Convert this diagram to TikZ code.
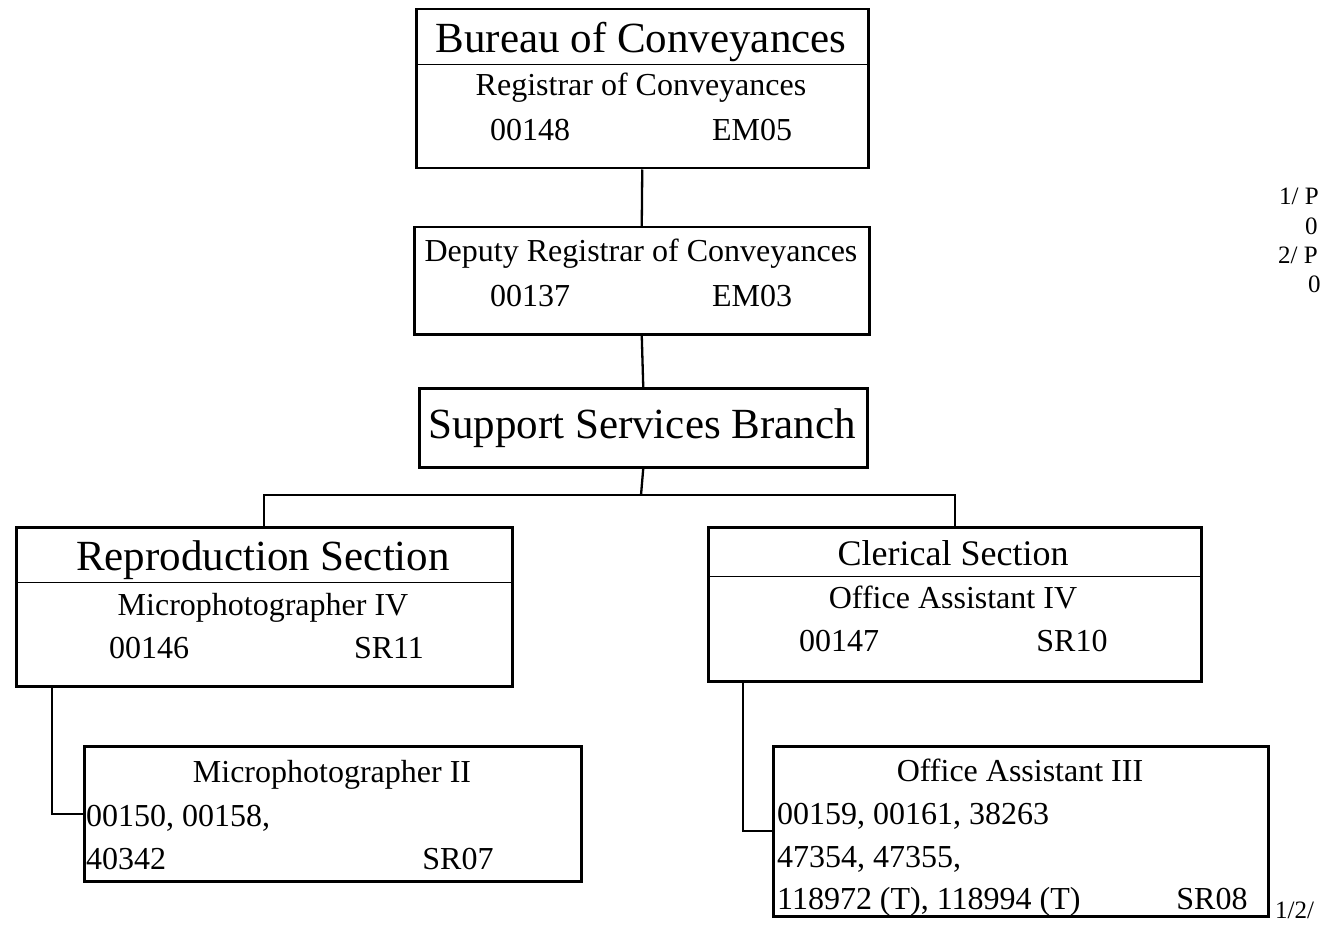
\documentclass[tikz,border=0pt]{standalone}
\usepackage{fontspec}
\setmainfont{Liberation Serif}
\tikzset{
    orgbox/.style={draw, line width=2.5pt, inner sep=0pt, anchor=north west},
    sepline/.style={line width=1pt},
    link/.style={line width=2.3pt},
    bigtxt/.style={font=\fontsize{43}{43}\selectfont, inner sep=0pt, anchor=base},
    midtxt/.style={font=\fontsize{36}{36}\selectfont, inner sep=0pt, anchor=base},
    stdtxt/.style={font=\fontsize{32}{32}\selectfont, inner sep=0pt, anchor=base},
    notetxt/.style={font=\fontsize{25}{25}\selectfont, inner sep=0pt, anchor=base west}
}
\begin{document}
\begin{tikzpicture}[x=1pt,y=1pt,yscale=-1,xscale=1]
    \useasboundingbox (0,0) rectangle (1325,925);

    %Shape: Rectangle [bureau]
    \node [orgbox, minimum width=452pt, minimum height=159pt] (bureau) at (415,8) {};
    \draw [sepline] (bureau.west |- 0,65) -- (bureau.east |- 0,65) ;
    \node [bigtxt] (bureauname) at (641,53) {Bureau of Conveyances};
    \node [stdtxt] (registrar) at (641,96) {Registrar of Conveyances};
    \node [stdtxt] (registrarno) at (530,141) {00148};
    \node [stdtxt] (registrarcls) at (752,141) {EM05};

    %Shape: Rectangle [deputy]
    \node [orgbox, minimum width=455pt, minimum height=107pt] (deputy) at (413,226) {};
    \node [stdtxt] (deputyname) at (641,262) {Deputy Registrar of Conveyances};
    \node [stdtxt] (deputyno) at (530,307) {00137};
    \node [stdtxt] (deputycls) at (752,307) {EM03};

    %Shape: Rectangle [support]
    \node [orgbox, minimum width=448pt, minimum height=79pt] (support) at (418,387) {};
    \node [bigtxt] (supportname) at (642,438) {Support Services Branch};

    %Shape: Rectangle [repro]
    \node [orgbox, minimum width=496pt, minimum height=159pt] (repro) at (15,526) {};
    \draw [sepline] (repro.west |- 0,582) -- (repro.east |- 0,582) ;
    \node [bigtxt] (reproname) at (263,570) {Reproduction Section};
    \node [stdtxt] (microiv) at (263,615) {Microphotographer IV};
    \node [stdtxt] (microivno) at (149,658) {00146};
    \node [stdtxt] (microivcls) at (389,658) {SR11};

    %Shape: Rectangle [clerical]
    \node [orgbox, minimum width=493pt, minimum height=154pt] (clerical) at (707,526) {};
    \draw [sepline] (clerical.west |- 0,576) -- (clerical.east |- 0,576) ;
    \node [midtxt] (clericalname) at (953,565) {Clerical Section};
    \node [stdtxt] (officeiv) at (953,608) {Office Assistant IV};
    \node [stdtxt] (officeivno) at (839,651) {00147};
    \node [stdtxt] (officeivcls) at (1072,651) {SR10};

    %Shape: Rectangle [microii]
    \node [orgbox, minimum width=497pt, minimum height=135pt] (microii) at (83,745) {};
    \node [stdtxt] (microiiname) at (332,782) {Microphotographer II};
    \node [stdtxt, anchor=base west] (microiia) at (86,826) {00150, 00158,};
    \node [stdtxt, anchor=base west] (microiib) at (86,869) {40342};
    \node [stdtxt] (microiicls) at (458,869) {SR07};

    %Shape: Rectangle [officeiii]
    \node [orgbox, minimum width=495pt, minimum height=170pt] (officeiii) at (772,745) {};
    \node [stdtxt] (officeiiiname) at (1020,781) {Office Assistant III};
    \node [stdtxt, anchor=base west] (officeiiia) at (777,824) {00159, 00161, 38263};
    \node [stdtxt, anchor=base west] (officeiiib) at (777,867) {47354, 47355,};
    \node [stdtxt, anchor=base west] (officeiiic) at (777,909) {118972 (T), 118994 (T)};
    \node [stdtxt] (officeiiicls) at (1212,909) {SR08};

    %Notes
    \node [notetxt] (notea) at (1279,205) {1/ P};
    \node [notetxt] (noteb) at (1305,235) {0};
    \node [notetxt] (notec) at (1278,264) {2/ P};
    \node [notetxt] (noted) at (1308,293) {0};
    \node [notetxt] (notee) at (1275,918) {1/2/};

    %Straight Lines
    \coordinate (fork) at (641,495);
    \draw [link] (bureau.south) -- (deputy.north) ;
    \draw [link] (deputy.south) -- (support.north) ;
    \draw [link] (support.south) -- (fork) ;
    \draw [link] (repro.north) |- (fork) -| (clerical.north) ;
    \draw [link] ([xshift=37pt]repro.south west) |- (microii.west) ;
    \draw [link] ([xshift=36pt]clerical.south west) |- (officeiii.west) ;

\end{tikzpicture}
\end{document}
